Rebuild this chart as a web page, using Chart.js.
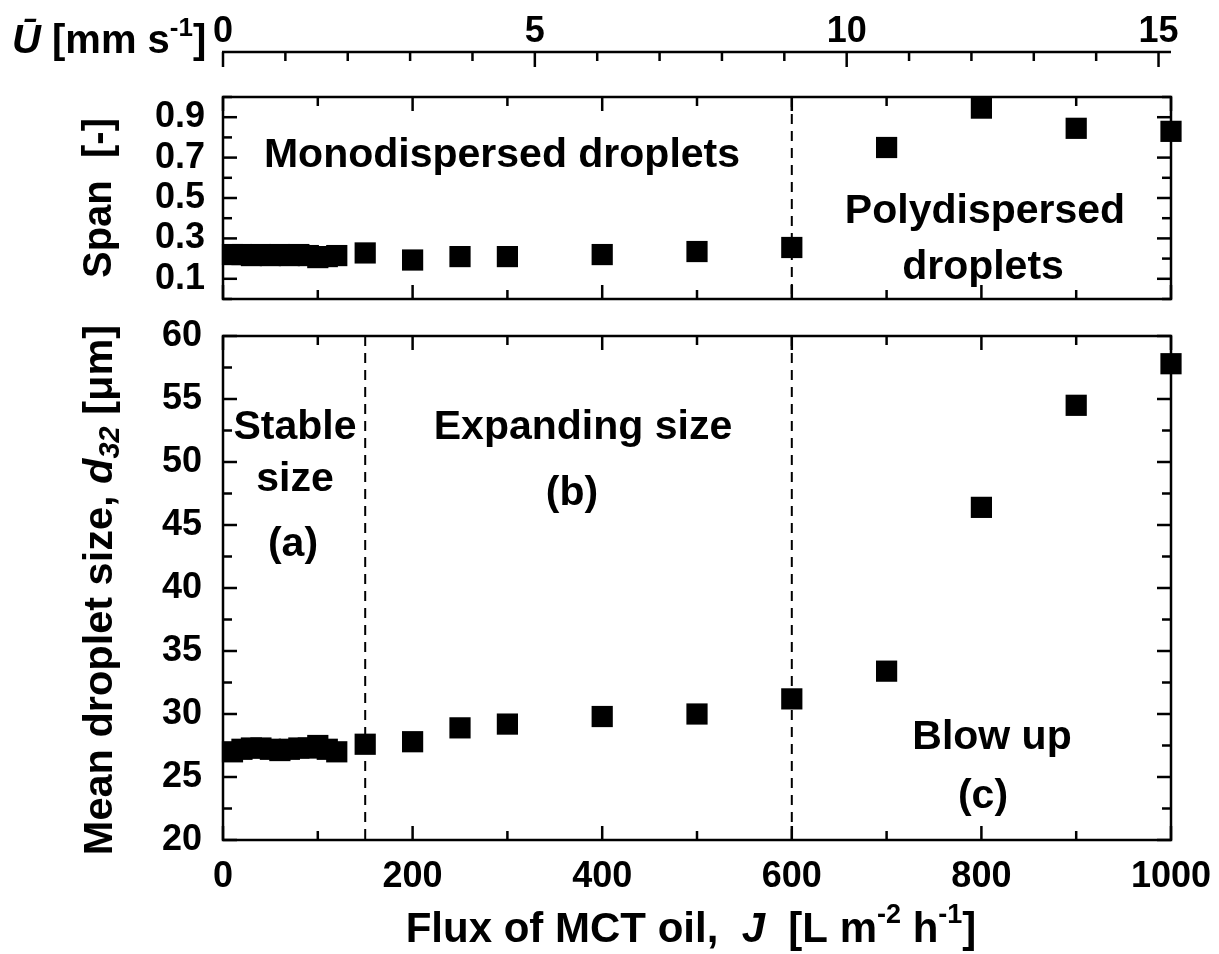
<!DOCTYPE html>
<html>
<head>
<meta charset="utf-8">
<title>Droplet size and span vs. MCT oil flux</title>
<script src="https://cdn.jsdelivr.net/npm/chart.js@4.4.1/dist/chart.umd.min.js"></script>
<style>
  html, body { margin: 0; padding: 0; background: #fff; }
  #wrap { position: relative; width: 1219px; height: 954px; }
  canvas { position: absolute; left: 0; top: 0; }
</style>
</head>
<body>
<div id="wrap">
  <canvas id="spanChart" width="1219" height="954"></canvas>
  <canvas id="sizeChart" width="1219" height="954"></canvas>
</div>
<script>
const FONT = "'Liberation Sans', Arial, Helvetica, sans-serif";

// flux of MCT oil, J [L m-2 h-1]
const fluxJ = [10, 20, 30, 40, 50, 60, 70, 80, 90, 100, 110, 120,
               150, 200, 250, 300, 400, 500, 600, 700, 800, 900, 1000];
// span of the size distribution [-]
const spanValues = [0.22, 0.22, 0.215, 0.22, 0.215, 0.22, 0.215, 0.22, 0.215, 0.205, 0.21, 0.215,
                    0.228, 0.193, 0.21, 0.21, 0.22, 0.235, 0.255, 0.75, 0.945, 0.845, 0.83];
// mean droplet size d32 [um]
const d32Values = [27.0, 27.2, 27.3, 27.3, 27.2, 27.1, 27.2, 27.3, 27.3, 27.5, 27.2, 27.0,
                   27.6, 27.8, 28.9, 29.2, 29.8, 30.0, 31.2, 33.4, 46.4, 54.5, 57.8];

const fluxTicks = [0, 200, 400, 600, 800, 1000];
const velocityTicks = [0, 5, 10, 15];
const velocityMax = 15.2;   // mean velocity at J = 1000
const spanTicks = [0.1, 0.3, 0.5, 0.7, 0.9];
const d32Ticks = [20, 25, 30, 35, 40, 45, 50, 55, 60];

// regime boundaries on the flux axis
const spanBoundaries = [600];
const sizeBoundaries = [150, 600];

const tickFont = { family: FONT, size: 36, weight: 'bold' };

function line(ctx, x1, y1, x2, y2) {
  ctx.beginPath();
  ctx.moveTo(x1, y1);
  ctx.lineTo(x2, y2);
  ctx.stroke();
}

// draws a row of text pieces (italic / sub / superscript) one after another
function drawRuns(ctx, runs, x, y, align) {
  const fontOf = r => (r.italic ? 'italic ' : '') + 'bold ' + r.size + 'px ' + FONT;
  ctx.textBaseline = 'middle';
  ctx.textAlign = 'left';
  let total = 0;
  runs.forEach(r => { ctx.font = fontOf(r); total += ctx.measureText(r.t).width; });
  let cx = align === 'center' ? x - total / 2 : x;
  runs.forEach(r => {
    ctx.font = fontOf(r);
    ctx.fillText(r.t, cx, y + (r.dy || 0));
    cx += ctx.measureText(r.t).width;
  });
}

function drawRotated(ctx, runs, x, y) {
  ctx.save();
  ctx.translate(x, y);
  ctx.rotate(-Math.PI / 2);
  drawRuns(ctx, runs, 0, 0, 'center');
  ctx.restore();
}

function drawLabel(ctx, text, x, y) {
  drawRuns(ctx, [{ t: text, size: 41 }], x, y, 'center');
}

// keep tick-label padding from shrinking the plot width
function noSidePadding(s) {
  s.paddingLeft = 0;
  s.paddingRight = 0;
}

// box around the plot area with inward ticks on all four sides
function drawFrame(chart, yScaleId, yFrom, yTo, yStep) {
  const { ctx, chartArea: a, scales } = chart;
  const xs = scales.x, ys = scales[yScaleId];
  ctx.save();
  ctx.strokeStyle = '#000';
  ctx.lineWidth = 2.5;
  ctx.strokeRect(a.left, a.top, a.right - a.left, a.bottom - a.top);
  for (let v = 0; v <= 1000; v += 100) {
    const px = xs.getPixelForValue(v);
    const len = v % 200 === 0 ? 14 : 9;
    line(ctx, px, a.bottom, px, a.bottom - len);
    line(ctx, px, a.top, px, a.top + len);
  }
  const n = Math.round((yTo - yFrom) / yStep);
  for (let i = 0; i <= n; i++) {
    const v = yFrom + i * yStep;
    const py = ys.getPixelForValue(v);
    const major = ys.ticks.some(t => Math.abs(t.value - v) < 1e-6);
    const len = major ? 14 : 9;
    line(ctx, a.left, py, a.left + len, py);
    line(ctx, a.right, py, a.right - len, py);
  }
  ctx.restore();
}

function drawBoundaries(chart, values) {
  const { ctx, chartArea: a, scales } = chart;
  ctx.save();
  ctx.strokeStyle = '#000';
  ctx.lineWidth = 2;
  ctx.setLineDash([10, 7]);
  values.forEach(v => {
    const px = scales.x.getPixelForValue(v);
    line(ctx, px, a.top, px, a.bottom);
  });
  ctx.restore();
}

const spanDecor = {
  id: 'spanDecor',
  beforeDatasetsDraw(chart) {
    const { ctx, scales } = chart;
    drawFrame(chart, 'y', 0, 1, 0.1);
    drawBoundaries(chart, spanBoundaries);

    // mean velocity axis above the span panel
    const u = scales.u;
    const axisY = 52;
    ctx.save();
    ctx.strokeStyle = '#000';
    ctx.lineWidth = 2.5;
    line(ctx, u.getPixelForValue(0) - 1, axisY, u.getPixelForValue(velocityMax), axisY);
    for (let v = 0; v <= 15; v++) {
      const px = u.getPixelForValue(v);
      line(ctx, px, axisY, px, axisY + (v % 5 === 0 ? 15 : 9));
    }
    ctx.fillStyle = '#000';
    drawRuns(ctx, [
      { t: '\u016A', size: 40, italic: true },
      { t: ' [mm s', size: 40 },
      { t: '-1', size: 26, dy: -13 },
      { t: ']', size: 40 }
    ], 12, 42, 'left');
    drawRotated(ctx, [{ t: 'Span  [-]', size: 40 }], 100, 198);
    ctx.restore();
  },
  afterDatasetsDraw(chart) {
    const ctx = chart.ctx;
    ctx.save();
    ctx.fillStyle = '#000';
    drawLabel(ctx, 'Monodispersed droplets', 502, 156);
    drawLabel(ctx, 'Polydispersed', 985, 212);
    drawLabel(ctx, 'droplets', 983, 268);
    ctx.restore();
  }
};

const sizeDecor = {
  id: 'sizeDecor',
  beforeDatasetsDraw(chart) {
    const ctx = chart.ctx;
    drawFrame(chart, 'y', 20, 60, 2.5);
    drawBoundaries(chart, sizeBoundaries);
    ctx.save();
    ctx.fillStyle = '#000';
    drawRotated(ctx, [
      { t: 'Mean droplet size, ', size: 41.5 },
      { t: 'd', size: 41.5, italic: true },
      { t: '32', size: 29, italic: true, dy: 10 },
      { t: ' [\u03BCm]', size: 41.5 }
    ], 101, 590);
    drawRuns(ctx, [
      { t: 'Flux of MCT oil,  ', size: 42 },
      { t: 'J', size: 42, italic: true },
      { t: '  [L m', size: 42 },
      { t: '-2', size: 27, dy: -14 },
      { t: ' h', size: 42 },
      { t: '-1', size: 27, dy: -14 },
      { t: ']', size: 42 }
    ], 691, 930, 'center');
    ctx.restore();
  },
  afterDatasetsDraw(chart) {
    const ctx = chart.ctx;
    ctx.save();
    ctx.fillStyle = '#000';
    drawLabel(ctx, 'Stable', 295, 428);
    drawLabel(ctx, 'size', 295, 480);
    drawLabel(ctx, '(a)', 293, 545);
    drawLabel(ctx, 'Expanding size', 583, 428);
    drawLabel(ctx, '(b)', 572, 494);
    drawLabel(ctx, 'Blow up', 992, 738);
    drawLabel(ctx, '(c)', 983, 797);
    ctx.restore();
  }
};

const markerStyle = {
  pointStyle: 'rect',
  pointRadius: 15,
  pointBackgroundColor: '#000',
  pointBorderWidth: 0,
  clip: false
};

const commonOptions = {
  responsive: false,
  animation: false,
  events: [],
  plugins: { legend: { display: false }, tooltip: { enabled: false } }
};

// top panel: span of the distribution
new Chart(document.getElementById('spanChart'), {
  type: 'scatter',
  data: {
    datasets: [Object.assign({
      label: 'Span',
      data: fluxJ.map((j, i) => ({ x: j, y: spanValues[i] }))
    }, markerStyle)]
  },
  options: Object.assign({}, commonOptions, {
    layout: { padding: { left: 0, right: 48, top: 0, bottom: 655 } },
    scales: {
      x: { type: 'linear', min: 0, max: 1000, display: false },
      u: {
        type: 'linear', axis: 'x', position: 'top', min: 0, max: velocityMax,
        afterBuildTicks: s => { s.ticks = velocityTicks.map(v => ({ value: v })); },
        afterFit: s => { s.height = 97; noSidePadding(s); },
        grid: { display: false },
        border: { display: false },
        ticks: { padding: 35, color: '#000', font: tickFont, callback: v => String(v) }
      },
      y: {
        type: 'linear', position: 'left', min: 0, max: 1,
        afterBuildTicks: s => { s.ticks = spanTicks.map(v => ({ value: v })); },
        afterFit: s => { s.width = 223; },
        grid: { display: false },
        border: { display: false },
        ticks: { padding: 10, color: '#000', font: tickFont, callback: v => v.toFixed(1) }
      }
    }
  }),
  plugins: [spanDecor]
});

// bottom panel: mean droplet size d32
new Chart(document.getElementById('sizeChart'), {
  type: 'scatter',
  data: {
    datasets: [Object.assign({
      label: 'd32',
      data: fluxJ.map((j, i) => ({ x: j, y: d32Values[i] }))
    }, markerStyle)]
  },
  options: Object.assign({}, commonOptions, {
    layout: { padding: { left: 0, right: 48, top: 336, bottom: 0 } },
    scales: {
      x: {
        type: 'linear', position: 'bottom', min: 0, max: 1000,
        afterBuildTicks: s => { s.ticks = fluxTicks.map(v => ({ value: v })); },
        afterFit: s => { s.height = 114; noSidePadding(s); },
        grid: { display: false },
        border: { display: false },
        ticks: { padding: 7, color: '#000', font: tickFont, maxRotation: 0, callback: v => String(v) }
      },
      y: {
        type: 'linear', position: 'left', min: 20, max: 60,
        afterBuildTicks: s => { s.ticks = d32Ticks.map(v => ({ value: v })); },
        afterFit: s => { s.width = 223; },
        grid: { display: false },
        border: { display: false },
        ticks: { padding: 13, color: '#000', font: tickFont, callback: v => String(v) }
      }
    }
  }),
  plugins: [sizeDecor]
});
</script>
</body>
</html>
